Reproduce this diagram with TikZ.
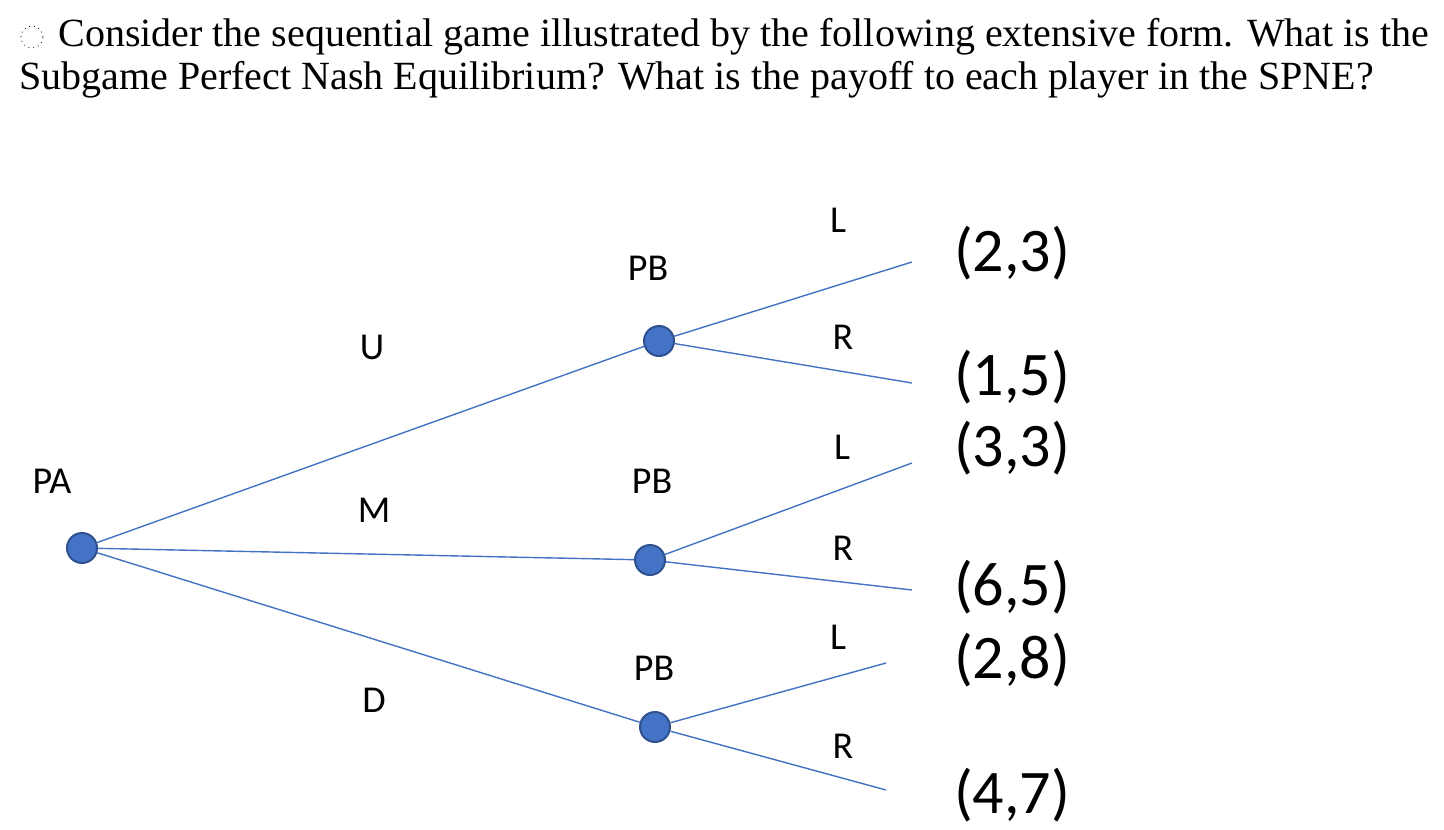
\documentclass[tikz,border=0pt]{standalone}
\usepackage{fontspec}
\setmainfont{Liberation Serif}
\newfontfamily\lab{Carlito}
\begin{document}
\begin{tikzpicture}[x=0.5pt,y=-0.5pt,
 dec/.style={circle,fill={rgb,255:red,68;green,114;blue,196},draw={rgb,255:red,47;green,82;blue,143},line width=1pt,minimum size=15pt,inner sep=0pt},
 edge/.style={draw={rgb,255:red,68;green,114;blue,196},line width=0.7pt},
 lbl/.style={font=\lab\fontsize{19}{21}\selectfont},
 pay/.style={font=\lab\fontsize{31}{34}\selectfont}]
\useasboundingbox (0,0) rectangle (1444,829);
\node[anchor=west,font=\fontsize{20}{23}\selectfont,inner sep=0] (t1) at (58,37) {Consider the sequential game illustrated by the following extensive form. What is the};
\node[anchor=west,font=\fontsize{20}{23}\selectfont,inner sep=0] (t2) at (19,80) {Subgame Perfect Nash Equilibrium? What is the payoff to each player in the SPNE?};
\node[draw,dotted,circle,minimum size=11pt,inner sep=0] (ic) at (32,37) {};
\node[dec] (pa) at (82,548) {};
\node[dec] (b1) at (659,341) {};
\node[dec] (b2) at (650,560) {};
\node[dec] (b3) at (655,727) {};
\coordinate (e1) at (912,262); \coordinate (e2) at (912,383);
\coordinate (e3) at (912,463); \coordinate (e4) at (912,590);
\coordinate (e5) at (886,663); \coordinate (e6) at (886,790);
\draw[edge] (pa) -- (b1); \draw[edge] (pa) -- (b2); \draw[edge] (pa) -- (b3);
\draw[edge] (b1) -- (e1); \draw[edge] (b1) -- (e2);
\draw[edge] (b2) -- (e3); \draw[edge] (b2) -- (e4);
\draw[edge] (b3) -- (e5); \draw[edge] (b3) -- (e6);
\node[lbl] (l1) at (838,220) {L}; \node[lbl] (r1) at (843,337) {R};
\node[lbl] (u) at (372,347) {U}; \node[lbl] (p1) at (648,268) {PB};
\node[lbl] (pal) at (52,481) {PA}; \node[lbl] (p2) at (652,481) {PB};
\node[lbl] (m) at (374,510) {M}; \node[lbl] (l2) at (842,447) {L};
\node[lbl] (r2) at (843,548) {R}; \node[lbl] (p3) at (654,668) {PB};
\node[lbl] (d) at (374,700) {D}; \node[lbl] (l3) at (838,637) {L};
\node[lbl] (r3) at (843,746) {R};
\node[pay] (q1) at (1012,253) {(2,3)}; \node[pay] (q2) at (1012,377) {(1,5)};
\node[pay] (q3) at (1012,448) {(3,3)}; \node[pay] (q4) at (1012,587) {(6,5)};
\node[pay] (q5) at (1012,660) {(2,8)}; \node[pay] (q6) at (1012,795) {(4,7)};
\end{tikzpicture}
\end{document}
